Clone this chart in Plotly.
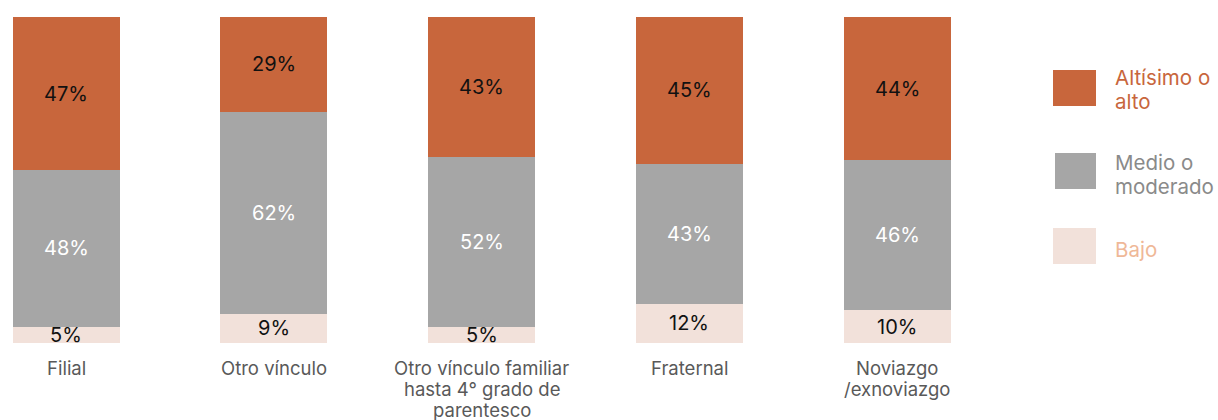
import plotly.graph_objects as go

categories = [
    "Filial",
    "Otro vínculo",
    "Otro vínculo familiar\nhasta 4° grado de\nparentesco",
    "Fraternal",
    "Noviazgo\n/exnoviazgo",
]
bajo = [5, 9, 5, 12, 10]
medio = [48, 62, 52, 43, 46]
alto = [47, 29, 43, 45, 44]

series_names = ["Bajo", "Medio o moderado", "Altísimo o alto"]
legend_labels = ["Altísimo o\nalto", "Medio o\nmoderado", "Bajo"]

C_ALTO = "#c8663c"
C_MEDIO = "#a6a6a6"
C_BAJO = "#f2e1da"
FONT = "Inter"

# plot-area geometry in pixels (used to convert to paper coords)
PLOT_TOP, PLOT_H, PLOT_W = 17, 326, 1000


def paper_y(py):
    return 1 - (py - PLOT_TOP) / PLOT_H


x = list(range(len(categories)))
fig = go.Figure()
for name, vals, col in [
    (series_names[0], bajo, C_BAJO),
    (series_names[1], medio, C_MEDIO),
    (series_names[2], alto, C_ALTO),
]:
    fig.add_trace(go.Bar(
        x=x, y=vals, name=name, marker=dict(color=col, line=dict(width=0)),
        width=0.515, hoverinfo="skip", showlegend=False,
    ))

annotations = []

# value labels centred in each segment
for i in x:
    base = 0
    for vals, tcol in [(bajo, "#111111"), (medio, "#ffffff"), (alto, "#111111")]:
        v = vals[i]
        annotations.append(dict(
            x=i, y=base + v / 2, xref="x", yref="y", text=f"{v}%",
            showarrow=False, font=dict(family=FONT, size=20, color=tcol),
        ))
        base += v

# category labels under each bar, one annotation per line for tight leading
LINE_STEP = 21
for i, cat in zip(x, categories):
    for k, line in enumerate(cat.split("\n")):
        annotations.append(dict(
            x=i, y=paper_y(368 + k * LINE_STEP), xref="x", yref="paper",
            text=line, showarrow=False, xanchor="center", yanchor="middle",
            font=dict(family=FONT, size=18.5, color="#595959"),
        ))

# custom legend on the right
legend_boxes = [
    (C_ALTO, 1053, 70, 106, 77),
    (C_MEDIO, 1055, 153, 189, 162),
    (C_BAJO, 1053, 228, 264, 249),
]
legend_text_colors = [C_ALTO, "#8a8a8a", "#efb898"]
shapes = []
for lab, (col, bx0, y0, y1, ytxt), tc in zip(legend_labels, legend_boxes, legend_text_colors):
    shapes.append(dict(
        type="rect", xref="paper", yref="paper",
        x0=bx0 / PLOT_W, x1=1096 / PLOT_W,
        y0=paper_y(y1), y1=paper_y(y0),
        fillcolor=col, line=dict(width=0),
    ))
    for k, line in enumerate(lab.split("\n")):
        annotations.append(dict(
            x=1113 / PLOT_W, y=paper_y(ytxt + k * 24.5), xref="paper", yref="paper",
            text=line, showarrow=False, xanchor="left", yanchor="middle", align="left",
            font=dict(family=FONT, size=20.5, color=tc),
        ))

fig.update_layout(
    barmode="stack",
    width=1218, height=420,
    margin=dict(l=0, r=218, t=17, b=77),
    paper_bgcolor="white", plot_bgcolor="white",
    xaxis=dict(
        range=[-0.318, 4.495], showticklabels=False,
        showgrid=False, zeroline=False, showline=False, ticks="",
    ),
    yaxis=dict(range=[0, 100], visible=False),
    annotations=annotations,
    shapes=shapes,
    font=dict(family=FONT),
)

fig.write_html("out.html")
